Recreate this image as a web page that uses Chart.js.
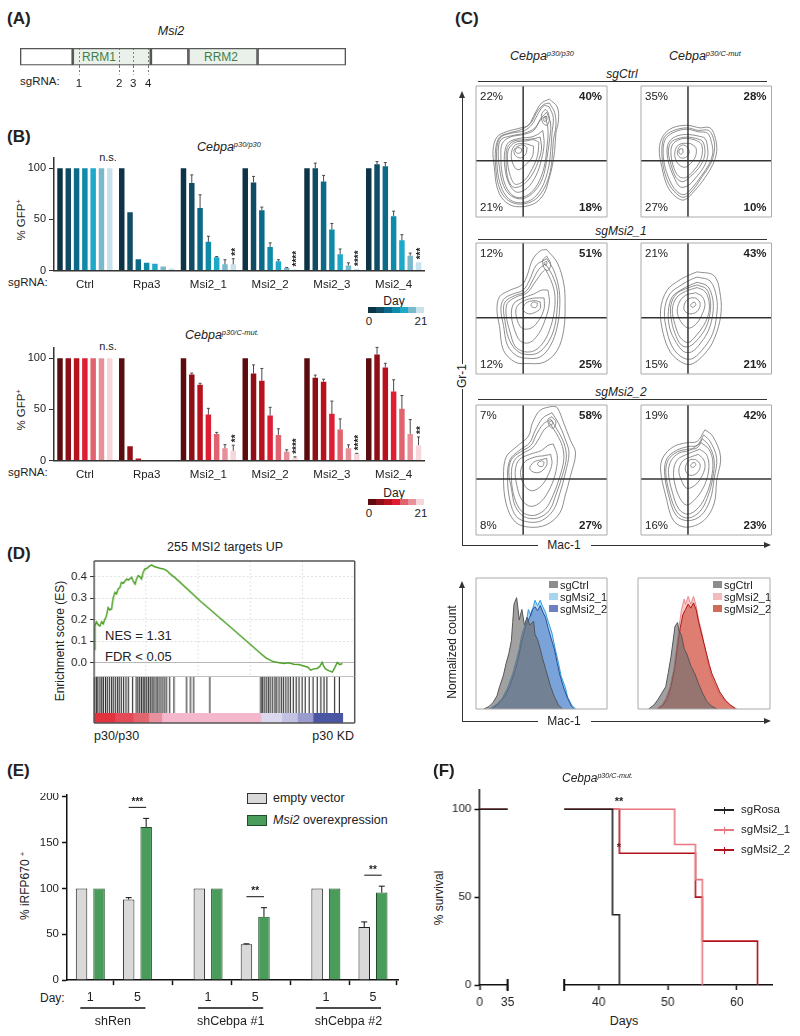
<!DOCTYPE html>
<html>
<head>
<meta charset="utf-8">
<script src="https://cdn.jsdelivr.net/npm/chart.js"></script>
<style>
body { margin: 0; background: #fff; }
#fig { position: relative; width: 800px; height: 1036px; overflow: hidden; font-family: "Liberation Sans", Arial, sans-serif; color: #222; }
.t { position: absolute; white-space: nowrap; line-height: 1; }
sup { font-size: 0.6em; vertical-align: 0; position: relative; top: -0.55em; }
</style>
</head>
<body>
<div id="fig"></div>
<script>
// ---------- data ----------

// (A) Msi2 transcript schematic (arbitrary units along the gene)
const msiSegments = [[0, 52.7], [52.7, 130.7], [130.7, 168.3], [168.3, 237.3], [237.3, 325.7]];
const msiSegFill = ['rgba(255,255,255,0)', 'rgba(150,185,150,0.2)', 'rgba(255,255,255,0)', 'rgba(150,185,150,0.2)', 'rgba(255,255,255,0)'];
const sgRnaPos = [59, 99, 113, 128];
const sgRnaNames = ['1', '2', '3', '4'];

// (B) % GFP+ over time, 7 time points from day 0 to day 21
const sgLabels = ['Ctrl', 'Rpa3', 'Msi2_1', 'Msi2_2', 'Msi2_3', 'Msi2_4'];
const gfpTicks = [0, 50, 100];
const dayTeal = ['#0d3446', '#104c63', '#0c6a88', '#108aa9', '#1fa9c9', '#7ab8cc', '#c7e2eb'];
const dayRed = ['#5c0c0e', '#8e0f17', '#b8121f', '#de1f33', '#e0636f', '#e8909a', '#f6d6da'];

const p30Ctrl = [100, 100, 100, 100, 100, 100, 100];
const p30Rpa3 = [100, 57, 11, 7.5, 6.5, 4, 2];
const p30Msi2_1 = [100, 85.5, 61, 28, 13, 6, 6];
const p30Msi2_2 = [100, 86, 59, 23, 9, 2.5, 1];
const p30Msi2_3 = [100, 100, 87, 40, 16, 5, 1.5];
const p30Msi2_4 = [100, 104, 102, 53, 29.5, 14.5, 8];
const p30Msi2_1Err = [0, 8, 13, 5.5, 0.7, 4.5, 5.5];
const p30Msi2_2Err = [0, 6, 3, 4, 1.5, 0.5, 0];
const p30Msi2_3Err = [0, 5, 6, 6, 5, 2.5, 0];
const p30Msi2_4Err = [0, 2.5, 3.5, 5, 5.5, 2.5, 0];
const noErr = [0, 0, 0, 0, 0, 0, 0];
const p30Stars = ['', '', '**', '****', '****', '***'];

const cmCtrl = [100, 100, 100, 100, 100, 100, 100];
const cmRpa3 = [100, 14, 2, 0, 0, 0, 0];
const cmMsi2_1 = [100, 84, 74, 45, 26, 12, 9.5];
const cmMsi2_2 = [100, 85, 78, 44, 25, 8.5, 2.6];
const cmMsi2_3 = [100, 81, 77, 45.6, 30.3, 12, 6.5];
const cmMsi2_4 = [100, 103.6, 91, 67.4, 50.5, 26, 15];
const cmMsi2_1Err = [0, 1.5, 1.5, 6, 1.5, 3.5, 5.5];
const cmMsi2_2Err = [0, 8.5, 12, 8, 6, 2, 1];
const cmMsi2_3Err = [0, 2.5, 2.5, 12.5, 10.4, 3.3, 0.5];
const cmMsi2_4Err = [0, 7, 4, 11.5, 13, 14, 8];
const cmStars = ['', '', '**', '****', '****', '**'];

// (C) flow contours, Mac-1 (x) vs Gr-1 (y), box units 0-100
const gateX = 36;
const gateY = 43;
const quadP30Ctrl = ['22%', '40%', '21%', '18%'];
const quadCmCtrl = ['35%', '28%', '27%', '10%'];
const quadP30Msi1 = ['12%', '51%', '12%', '25%'];
const quadCmMsi1 = ['21%', '43%', '15%', '21%'];
const quadP30Msi2 = ['7%', '58%', '8%', '27%'];
const quadCmMsi2 = ['19%', '42%', '16%', '23%'];

const contP30Ctrl = [
  [[56,90],[62,84],[63,74],[61,64],[60,50],[58,38],[56,30],[52,18],[44,10],[30,8],[21,13],[16,23],[14,38],[13,51],[16,61],[23,65],[34,68],[40,70],[45,79],[50,87]],
  [[56,87],[60,80],[61,70],[59,58],[58,44],[56,32],[51,20],[43,12],[31,10],[22,15],[17,25],[15,39],[15,52],[18,61],[25,64],[35,67],[42,72],[47,81],[52,86]],
  [[56,84],[59,76],[58,64],[57,50],[55,36],[50,22],[42,13],[31,11],[23,16],[18,27],[16,40],[16,53],[19,61],[27,64],[37,66],[43,71],[48,80],[52,85]],
  [[54,80],[57,71],[56,58],[54,44],[51,30],[45,20],[36,14],[27,16],[21,24],[18,37],[17,50],[19,59],[27,62],[37,64],[45,68],[50,76]],
  [[53,77],[55,66],[54,52],[52,38],[47,25],[40,17],[31,15],[24,21],[20,33],[19,46],[20,56],[26,61],[36,63],[44,66],[49,74]],
  [[51,66],[52,56],[50,44],[46,32],[39,22],[31,19],[25,26],[22,38],[22,50],[25,57],[33,60],[42,61],[47,63]],
  [[49,61],[50,52],[47,41],[42,31],[35,24],[28,23],[24,31],[23,44],[24,53],[29,58],[38,59],[45,60]],
  [[48,57],[47,47],[43,37],[37,28],[30,25],[26,32],[24,43],[25,52],[30,57],[38,58],[44,59]],
  [[44,54],[43,46],[38,40],[32,36],[28,41],[27,49],[30,55],[37,56]],
  [[39,53],[38,48],[34,45],[30,47],[29,51],[32,54],[36,55]],
  [[35,52],[34,49],[31,49],[30,51],[32,53]],
  [[55,80],[56,74],[54,70],[51,72],[50,78],[53,82]],
  [[54,77],[54,74],[52,73],[52,76]]
];
const contCmCtrl = [
  [[45,68],[53,68],[57,60],[58,50],[55,40],[49,30],[41,20],[33,13],[26,16],[20,24],[16,38],[14,52],[17,62],[24,68],[35,70]],
  [[44,66],[52,66],[56,58],[56,49],[53,40],[47,31],[40,21],[33,15],[27,18],[21,26],[17,39],[16,52],[18,61],[25,66],[35,68]],
  [[44,65],[51,64],[54,57],[55,49],[52,40],[46,31],[39,22],[33,17],[27,20],[22,28],[18,40],[17,52],[19,60],[26,65],[35,67]],
  [[43,62],[49,60],[51,53],[51,46],[48,38],[42,30],[36,24],[30,23],[25,31],[21,42],[20,52],[22,58],[28,62],[36,63]],
  [[42,60],[47,58],[49,51],[48,44],[44,37],[38,31],[32,27],[27,30],[23,40],[21,50],[23,57],[29,60],[36,61]],
  [[41,59],[46,56],[47,49],[45,42],[40,35],[34,30],[29,31],[25,38],[23,48],[24,55],[29,59],[35,60]],
  [[38,56],[42,53],[42,47],[39,42],[34,38],[29,40],[26,46],[27,53],[31,56]],
  [[35,54],[37,50],[35,46],[31,45],[28,48],[29,53],[32,55]],
  [[32,52],[32,49],[30,48],[29,50],[30,52]]
];
const contP30Msi1 = [
  [[54,95],[62,85],[67,69],[68,54],[67,34],[62,18],[52,9],[39,8],[30,9],[21,18],[18,36],[16,49],[18,59],[26,64],[35,68],[39,75],[43,87],[49,94]],
  [[54,88],[59,80],[63,67],[64,53],[62,36],[57,22],[49,13],[39,12],[31,14],[24,22],[21,37],[19,49],[21,57],[28,61],[36,64],[41,72],[46,83]],
  [[53,84],[58,76],[62,64],[62,51],[60,36],[55,24],[47,16],[38,15],[31,18],[25,27],[22,41],[21,51],[23,56],[30,60],[38,63],[43,71],[48,80]],
  [[53,80],[57,72],[60,62],[60,50],[57,36],[52,25],[45,18],[37,17],[30,21],[26,32],[23,45],[24,54],[31,59],[39,62],[45,70],[50,77]],
  [[55,64],[56,54],[53,42],[48,31],[41,24],[34,25],[29,35],[27,46],[29,54],[36,58],[44,61],[50,64]],
  [[52,58],[52,50],[48,41],[42,35],[35,35],[31,43],[31,51],[37,56],[45,58]],
  [[49,55],[49,50],[45,47],[40,46],[36,49],[38,54],[44,56]],
  [[47,54],[46,51],[43,51],[42,53],[44,55]],
  [[54,90],[57,84],[55,79],[52,81],[51,87]],
  [[54,86],[54,84],[53,83],[52,85]]
];
const contCmMsi1 = [
  [[43,78],[56,75],[61,59],[61,44],[57,29],[51,18],[40,8],[33,8],[23,16],[17,31],[15,49],[20,64],[30,72],[38,76]],
  [[43,74],[53,71],[58,58],[58,45],[55,31],[49,21],[40,12],[33,12],[25,19],[20,32],[18,48],[22,61],[31,68],[38,72]],
  [[43,70],[51,67],[55,57],[55,46],[52,34],[46,24],[39,17],[33,17],[27,24],[22,35],[21,48],[24,59],[32,65],[38,68]],
  [[43,68],[50,65],[53,57],[53,47],[50,36],[44,27],[37,21],[31,22],[26,31],[23,43],[23,53],[27,61],[34,65]],
  [[43,66],[49,63],[52,56],[52,47],[48,37],[42,29],[36,24],[30,28],[26,38],[24,49],[27,58],[34,63]],
  [[42,62],[47,59],[49,53],[47,46],[43,39],[37,35],[32,38],[28,46],[29,54],[34,60]],
  [[42,58],[45,55],[45,51],[42,47],[37,46],[33,49],[34,55],[38,58]],
  [[41,55],[42,53],[40,51],[38,52],[39,54]]
];
const contP30Msi2 = [
  [[58,99],[62,98],[67,86],[72,73],[76,63],[72,45],[68,30],[64,17],[54,8],[41,6],[30,10],[23,24],[21,45],[23,60],[31,68],[40,76],[43,86],[49,96]],
  [[58,94],[63,86],[68,74],[71,63],[68,47],[64,32],[59,19],[50,11],[40,10],[31,14],[26,26],[24,45],[26,58],[33,65],[41,71],[45,80],[51,90]],
  [[57,89],[62,81],[67,71],[69,60],[66,46],[61,31],[56,19],[47,13],[37,14],[30,22],[27,36],[25,48],[27,58],[34,64],[42,69],[46,77],[51,85]],
  [[57,85],[62,77],[66,68],[67,58],[64,45],[59,31],[53,20],[44,15],[35,18],[29,30],[27,46],[29,57],[36,63],[43,67],[48,74],[52,81]],
  [[59,70],[62,61],[61,49],[57,37],[50,26],[42,22],[35,27],[31,39],[30,50],[33,58],[41,62],[50,65],[55,69]],
  [[57,62],[58,55],[55,46],[50,38],[43,34],[37,38],[34,48],[37,56],[45,60],[52,61]],
  [[54,59],[54,54],[50,49],[45,48],[41,51],[44,56],[50,58]],
  [[52,56],[51,53],[48,53],[47,55],[50,57]],
  [[58,91],[61,87],[59,82],[56,84],[55,89]],
  [[58,88],[59,86],[57,85],[56,87]]
];
const contCmMsi2 = [
  [[49,81],[55,76],[61,60],[58,42],[56,24],[48,11],[35,6],[25,11],[19,30],[15,50],[17,60],[25,68],[35,71],[43,72]],
  [[48,77],[53,72],[58,59],[56,43],[53,27],[46,15],[36,11],[27,15],[21,31],[18,49],[20,59],[27,65],[36,68],[43,69]],
  [[47,74],[52,69],[56,58],[55,44],[51,29],[45,18],[36,13],[28,17],[22,32],[19,48],[21,58],[28,64],[36,66],[43,67]],
  [[46,71],[52,66],[55,57],[54,44],[50,31],[44,21],[36,16],[29,20],[24,33],[21,48],[23,57],[29,63],[37,65]],
  [[45,66],[50,62],[52,55],[51,45],[47,35],[41,27],[35,23],[30,28],[26,39],[25,50],[28,58],[35,62]],
  [[44,62],[48,58],[49,52],[46,44],[41,38],[35,36],[31,42],[29,50],[32,57],[38,60]],
  [[42,58],[45,55],[45,51],[42,47],[37,46],[34,50],[35,55],[38,58]],
  [[41,56],[42,54],[40,52],[38,53],[39,55]]
];

// (C) Mac-1 histograms, box units 0-100
const histLCtrl = [[6,0],[10,2],[13,5],[16,10],[18,17],[21,26],[23,35],[25,42],[27,52],[28,66],[29,80],[31,85],[32,77],[33,68],[35,76],[37,64],[39,70],[41,64],[44,67],[45,57],[47,53],[49,46],[51,38],[53,31],[55,24],[57,17],[60,9],[63,3],[66,0]];
const histLMsi1 = [[10,0],[15,3],[20,8],[24,16],[28,27],[31,38],[33,46],[35,57],[37,63],[39,70],[40,76],[42,71],[44,79],[45,83],[47,79],[49,83],[51,78],[53,74],[55,67],[58,58],[60,48],[63,35],[65,25],[68,17],[70,9],[73,3],[76,0]];
const histLMsi2 = [[12,0],[17,4],[22,10],[26,18],[30,30],[33,42],[35,52],[37,60],[39,66],[41,70],[43,76],[45,78],[47,75],[49,79],[51,74],[53,70],[55,62],[57,55],[60,45],[62,35],[64,26],[67,16],[70,8],[73,2],[75,0]];
const histRCtrl = [[8,0],[12,3],[15,7],[18,12],[21,17],[23,28],[25,40],[27,55],[28,63],[30,66],[31,60],[33,56],[35,46],[37,42],[40,33],[43,27],[46,19],[49,12],[52,6],[56,2],[60,0]];
const histRMsi1 = [[14,0],[18,3],[21,8],[24,16],[27,30],[29,45],[31,62],[33,76],[35,84],[36,80],[38,86],[40,80],[42,86],[44,79],[46,68],[48,60],[50,50],[52,40],[54,31],[56,24],[59,17],[62,11],[66,6],[70,3],[75,0]];
const histRMsi2 = [[15,0],[19,3],[22,8],[25,17],[28,32],[30,48],[32,62],[34,72],[36,76],[38,80],[40,77],[42,81],[44,76],[46,66],[48,58],[50,50],[52,42],[54,34],[56,27],[59,20],[62,13],[66,7],[70,3],[74,0]];

// (D) GSEA running enrichment score, x = % of ranked list
const esX = [0, 0.3, 0.9, 1.6, 2.2, 2.9, 3.5, 4.1, 4.7, 5.4, 6.0, 6.7, 7.3, 8.0, 8.6, 9.2, 9.9, 10.5, 11.2, 12.5, 13.2, 14.4, 15.0, 15.7, 16.3, 16.9, 17.6, 18.2, 18.8, 19.5, 20.3, 21.2, 22.1, 23.0, 24.0, 25.2, 26.6, 28.0, 29.1, 31.0, 33.0, 40.7, 53.5, 63.8, 66.0, 68.9, 70.5, 72.8, 74.5, 76.6, 78.5, 80.5, 82.0, 83.1, 84.3, 85.6, 86.5, 87.5, 88.2, 88.8, 90.0, 91.4, 92.3, 93.3, 94.2, 95.3];
const esY = [0.06, 0.17, 0.19, 0.175, 0.17, 0.19, 0.18, 0.2, 0.216, 0.256, 0.245, 0.25, 0.3, 0.327, 0.32, 0.343, 0.35, 0.374, 0.37, 0.39, 0.385, 0.398, 0.38, 0.366, 0.39, 0.406, 0.4, 0.39, 0.42, 0.437, 0.44, 0.45, 0.456, 0.448, 0.445, 0.44, 0.437, 0.428, 0.414, 0.396, 0.374, 0.287, 0.153, 0.043, 0.02, 0.003, 0.0, -0.005, -0.002, -0.008, -0.01, -0.017, -0.022, -0.036, -0.03, -0.028, -0.02, 0.0, -0.02, -0.03, -0.038, -0.045, -0.025, 0.0, -0.01, -0.005];
const esTicks = [0, 0.1, 0.2, 0.3, 0.4];
const esGridX = [20, 40, 60, 80];
const esHits = [0.3, 0.9, 1.5, 2.3, 3, 3.6, 4.4, 5.1, 5.9, 6.7, 7.4, 8.2, 9, 9.7, 10.5, 11.4, 12.3, 13.2, 14.8, 16.2, 16.9, 17.6, 18.3, 19, 19.6, 20.3, 21, 21.7, 22.4, 23.1, 23.9, 24.6, 25.4, 26.2, 27, 27.8, 29, 30.7, 35.5, 37, 38.2, 44.4, 63.9, 64.5, 65.2, 66, 66.8, 67.5, 68.4, 69.3, 70, 70.9, 71.8, 72.6, 73.5, 74.4, 75.3, 76.4, 77.5, 78.6, 79.8, 81, 82.5, 84, 85.6, 87, 88.2, 89.3, 92.3, 94.1];
const rankEdges = [[0, 8], [8, 15], [15, 21], [21, 26], [26, 64], [64, 72], [72, 78], [78, 84], [84, 95.4]];
const rankColors = ['#e2323d', '#e34a55', '#e2646f', '#e7909e', '#f5b7cc', '#dcd8ee', '#c3c2e3', '#9a9cce', '#4a55a3'];

// (E) % iRFP670+
const eSlots = [0, 2, 5, 7, 10, 12];
const eDays = ['1', '5', '1', '5', '1', '5'];
const eGroups = ['shRen', 'shCebpa #1', 'shCebpa #2'];
const eSig = ['***', '**', '**'];
const eEmpty = [100, 88, 100, 39, 100, 58];
const eEmptyErr = [0, 2, 0, 0.6, 0, 5.5];
const eMsi2 = [100, 167, 100, 69, 100, 95.5];
const eMsi2Err = [0, 9.5, 0, 10, 0, 7];
const eTicks = [0, 50, 100, 150, 200];

// (F) survival, [day, % survival] step points
const kmRosa = [[0, 100], [42, 40], [43, 0]];
const kmMsi2_1 = [[0, 100], [51, 80], [54, 60], [55, 0]];
const kmMsi2_2 = [[0, 100], [43, 75], [54, 50], [55, 25], [63, 0]];
const kmNames = ['sgRosa', 'sgMsi2_1', 'sgMsi2_2'];
const kmColors = ['#222222', '#e8767d', '#b3121c'];
const kmTicks = [0, 50, 100];

// ---------- helpers ----------
Chart.defaults.font.family = '"Liberation Sans", Arial, sans-serif';
Chart.defaults.font.size = 11;
Chart.defaults.color = '#222';
Chart.defaults.animation = false;
Chart.defaults.responsive = true;
Chart.defaults.maintainAspectRatio = false;
Chart.defaults.events = [];
Chart.defaults.plugins.legend.display = false;
Chart.defaults.plugins.tooltip.enabled = false;
Chart.defaults.layout.autoPadding = false;

const fig = document.getElementById('fig');

function canvasAt(l, t, w, h) {
  const d = document.createElement('div');
  d.style.cssText = `position:absolute;left:${l}px;top:${t}px;width:${w}px;height:${h}px`;
  const c = document.createElement('canvas');
  d.appendChild(c);
  fig.appendChild(d);
  return c;
}

function txt(html, x, y, o = {}) {
  const e = document.createElement('div');
  e.className = 't';
  e.innerHTML = html;
  const a = o.align || 'left';
  const tx = a === 'center' ? '-50%' : a === 'right' ? '-100%' : '0';
  e.style.left = x + 'px';
  e.style.top = y + 'px';
  e.style.fontSize = (o.size || 11) + 'px';
  if (o.bold) e.style.fontWeight = 'bold';
  if (o.italic) e.style.fontStyle = 'italic';
  if (o.color) e.style.color = o.color;
  e.style.transform = `translate(${tx},-50%)` + (o.rot ? ' rotate(-90deg)' : '');
  fig.appendChild(e);
}

function rect(l, t, w, h, css) {
  const e = document.createElement('div');
  e.style.cssText = `position:absolute;left:${l}px;top:${t}px;width:${w}px;height:${h}px;${css}`;
  fig.appendChild(e);
}
const hline = (x0, x1, y, c = '#333', w = 1) => rect(x0, y - w / 2, x1 - x0, w, `background:${c}`);
const vline = (x, y0, y1, c = '#333', w = 1) => rect(x - w / 2, y0, w, y1 - y0, `background:${c}`);
const arrowUp = (x, y) => rect(x - 3.5, y, 0, 0, 'border-left:3.5px solid transparent;border-right:3.5px solid transparent;border-bottom:7px solid #333');
const arrowRight = (x, y) => rect(x - 7, y - 3.5, 0, 0, 'border-top:3.5px solid transparent;border-bottom:3.5px solid transparent;border-left:7px solid #333');

// fixed axis sizes, and no extra layout padding for edge tick labels
const fitW = w => s => { s.width = w; s.paddingTop = s.paddingBottom = s.paddingLeft = s.paddingRight = 0; };
const fitH = h => s => { s.height = h; s.paddingTop = s.paddingBottom = s.paddingLeft = s.paddingRight = 0; };

// ---------- plugins ----------
const errorBars = {
  id: 'errorBars',
  afterDatasetsDraw(chart) {
    const { ctx } = chart;
    const ys = chart.scales.y;
    chart.data.datasets.forEach((ds, i) => {
      if (!ds.errors) return;
      const meta = chart.getDatasetMeta(i);
      meta.data.forEach((bar, j) => {
        const e = ds.errors[j];
        if (!e) return;
        const raw = ds.data[j];
        const v = typeof raw === 'object' ? raw.y : raw;
        const top = ys.getPixelForValue(v + e);
        const cap = ds.errCap || 2;
        ctx.save();
        ctx.strokeStyle = ds.errColor || '#333';
        ctx.lineWidth = ds.errWidth || 1;
        ctx.beginPath();
        ctx.moveTo(bar.x, bar.y);
        ctx.lineTo(bar.x, top);
        ctx.moveTo(bar.x - cap, top);
        ctx.lineTo(bar.x + cap, top);
        ctx.stroke();
        ctx.restore();
      });
    });
  }
};

const frame = {
  id: 'frame',
  afterDraw(chart, args, o) {
    if (!o.sides) return;
    const { ctx, chartArea: a } = chart;
    ctx.save();
    ctx.lineWidth = o.width || 1;
    const seg = (s, x0, y0, x1, y1) => {
      if (!o.sides.includes(s)) return;
      ctx.strokeStyle = (s === 'b' && o.bottomColor) || o.color || '#555';
      ctx.beginPath();
      ctx.moveTo(x0, y0);
      ctx.lineTo(x1, y1);
      ctx.stroke();
    };
    seg('l', a.left, a.top, a.left, a.bottom);
    seg('r', a.right, a.top, a.right, a.bottom);
    seg('t', a.left, a.top, a.right, a.top);
    seg('b', a.left, a.bottom, a.right, a.bottom);
    ctx.restore();
  }
};

const quads = {
  id: 'quads',
  afterDraw(chart, args, o) {
    if (!o.labels) return;
    const { ctx, chartArea: a } = chart;
    const f = '11.5px "Liberation Sans", Arial, sans-serif';
    ctx.save();
    ctx.fillStyle = '#222';
    ctx.textBaseline = 'middle';
    ctx.font = f;
    ctx.textAlign = 'left';
    ctx.fillText(o.labels[0], a.left + 4, a.top + 11);
    ctx.fillText(o.labels[2], a.left + 4, a.bottom - 9);
    ctx.font = 'bold ' + f;
    ctx.textAlign = 'right';
    ctx.fillText(o.labels[1], a.right - 5, a.top + 11);
    ctx.fillText(o.labels[3], a.right - 5, a.bottom - 9);
    ctx.restore();
  }
};

const stars = {
  id: 'stars',
  afterDatasetsDraw(chart, args, o) {
    if (!o.labels) return;
    const { ctx } = chart;
    const ds = chart.data.datasets;
    const last = ds.length - 1;
    const meta = chart.getDatasetMeta(last);
    const ys = chart.scales.y;
    o.labels.forEach((lab, j) => {
      if (!lab) return;
      const v = ds[last].data[j] + (ds[last].errors[j] || 0);
      ctx.save();
      ctx.translate(meta.data[j].x + 2.5, ys.getPixelForValue(v) - 3);
      ctx.rotate(-Math.PI / 2);
      ctx.font = 'bold 10px "Liberation Sans", Arial, sans-serif';
      ctx.fillStyle = '#222';
      ctx.textAlign = 'left';
      ctx.textBaseline = 'middle';
      ctx.fillText(lab, 0, 0);
      ctx.restore();
    });
  }
};

const groupMarks = {
  id: 'groupMarks',
  afterDraw(chart, args, o) {
    if (!o.names) return;
    const { ctx, chartArea: a, scales: { x, y } } = chart;
    const m0 = chart.getDatasetMeta(0), m1 = chart.getDatasetMeta(1);
    const d0 = chart.data.datasets[0], d1 = chart.data.datasets[1];
    ctx.save();
    ctx.strokeStyle = '#111';
    ctx.fillStyle = '#222';
    ctx.textAlign = 'center';
    ctx.textBaseline = 'middle';
    o.names.forEach((name, g) => {
      const x0 = x.getPixelForValue(o.slots[2 * g]) - 10;
      const x1 = x.getPixelForValue(o.slots[2 * g + 1]) + 8;
      const yl = a.bottom + 28;
      ctx.lineWidth = 1.5;
      ctx.beginPath();
      ctx.moveTo(x0, yl);
      ctx.lineTo(x1, yl);
      ctx.stroke();
      ctx.font = '12.5px "Liberation Sans", Arial, sans-serif';
      ctx.fillText(name, (x0 + x1) / 2, yl + 13);
      const j = 2 * g + 1;
      const top = Math.max(d0.data[j].y + (d0.errors[j] || 0), d1.data[j].y + (d1.errors[j] || 0));
      const ysig = y.getPixelForValue(top) - 11;
      const bx0 = m0.data[j].x, bx1 = m1.data[j].x;
      ctx.lineWidth = 1;
      ctx.beginPath();
      ctx.moveTo(bx0, ysig);
      ctx.lineTo(bx1, ysig);
      ctx.stroke();
      ctx.font = 'bold 10px "Liberation Sans", Arial, sans-serif';
      ctx.fillText(o.sig[g], (bx0 + bx1) / 2, ysig - 5);
    });
    ctx.restore();
  }
};

const axisBreak = {
  id: 'axisBreak',
  afterDraw(chart, args, o) {
    if (!o.side) return;
    const { ctx, chartArea: a } = chart;
    const bx = o.side === 'left' ? a.left : a.right;
    ctx.save();
    ctx.strokeStyle = '#111';
    ctx.lineWidth = 2;
    ctx.beginPath();
    ctx.moveTo(bx, a.bottom - 6);
    ctx.lineTo(bx, a.bottom + 6);
    ctx.stroke();
    ctx.restore();
  }
};

Chart.register(errorBars, frame, quads, stars, groupMarks, axisBreak);

const fixedTicks = vals => s => { s.ticks = vals.map(v => ({ value: v })); };

// ---------- (A) ----------
txt('(A)', 7, 18, { size: 17, bold: true });
txt('Msi2', 171, 31, { align: 'center', italic: true, size: 12.5 });
txt('sgRNA:', 20, 82, { size: 11.5 });
txt('RRM1', 99, 57, { align: 'center', size: 12, color: '#2b7035' });
txt('RRM2', 221, 57, { align: 'center', size: 12, color: '#2b7035' });

new Chart(canvasAt(15, 45.5, 336, 48), {
  type: 'bar',
  data: {
    labels: ['Msi2'],
    datasets: msiSegments.map((s, i) => ({
      data: [s],
      backgroundColor: msiSegFill[i],
      borderColor: '#555',
      borderWidth: 1,
      borderSkipped: false,
      grouped: false,
      barPercentage: 1,
      categoryPercentage: 1
    }))
  },
  options: {
    indexAxis: 'y',
    layout: { padding: { left: 5, right: 5, top: 2, bottom: 0 } },
    scales: {
      y: { display: false },
      x: {
        type: 'linear', min: 0, max: 325.7, z: 1,
        afterBuildTicks: fixedTicks(sgRnaPos),
        afterFit: fitH(28.5),
        ticks: { callback: (v, i) => sgRnaNames[i], font: { size: 11.5 }, padding: 2, maxRotation: 0, autoSkip: false },
        grid: { color: '#777', tickColor: '#777', tickLength: 9, tickBorderDash: [2, 2], lineWidth: 1 },
        border: { display: false, dash: [2, 2] }
      }
    }
  }
});

// ---------- (B) ----------
txt('(B)', 7, 136, { size: 17, bold: true });

function gfpChart(bottom, means, errs, palette, starLabels) {
  const l = 53.5, r = 424, h = 112.5, yw = 42, xh = 24;
  new Chart(canvasAt(l - yw, bottom - h - 2, r - l + yw + 2, h + 2 + xh), {
    type: 'bar',
    data: {
      labels: sgLabels,
      datasets: palette.map((c, d) => ({
        data: means.map(g => g[d]),
        errors: errs.map(g => g[d]),
        backgroundColor: c,
        errColor: '#4a4a4a',
        errCap: 1.5,
        categoryPercentage: 0.94,
        barPercentage: 0.66
      }))
    },
    options: {
      layout: { padding: { top: 2, right: 2 } },
      scales: {
        x: {
          grid: { display: false, drawTicks: false },
          border: { color: '#333', width: 1.5 },
          ticks: { padding: 7, font: { size: 11.5 } },
          afterFit: fitH(xh)
        },
        y: {
          min: 0, max: 110,
          afterBuildTicks: fixedTicks(gfpTicks),
          afterFit: fitW(yw),
          grid: { drawOnChartArea: false, tickLength: 5, tickColor: '#333' },
          border: { color: '#333', width: 1.5 },
          ticks: { padding: 3, font: { size: 11 } }
        }
      },
      plugins: { stars: { labels: starLabels } }
    }
  });
}

function dayLegend(palette, y) {
  txt('Day', 394, y - 9, { align: 'center', size: 12 });
  palette.forEach((c, i) => rect(368 + i * 8, y - 3, 8, 6, `background:${c}`));
  txt('0', 369, y + 12, { align: 'center', size: 11.5 });
  txt('21', 421, y + 12, { align: 'center', size: 11.5 });
}

txt('<i>Cebpa<sup>p30/p30</sup></i>', 197, 147, { size: 12.5 });
txt('n.s.', 108, 157, { align: 'center', size: 11 });
txt('% GFP<sup>+</sup>', 22, 220, { align: 'center', rot: true, size: 11.5 });
txt('sgRNA:', 8, 283, { size: 11.5 });
gfpChart(270, [p30Ctrl, p30Rpa3, p30Msi2_1, p30Msi2_2, p30Msi2_3, p30Msi2_4],
  [noErr, noErr, p30Msi2_1Err, p30Msi2_2Err, p30Msi2_3Err, p30Msi2_4Err], dayTeal, p30Stars);
dayLegend(dayTeal, 310);

txt('<i>Cebpa<sup>p30/C-mut.</sup></i>', 185, 335, { size: 12.5 });
txt('n.s.', 108, 346, { align: 'center', size: 11 });
txt('% GFP<sup>+</sup>', 22, 410, { align: 'center', rot: true, size: 11.5 });
txt('sgRNA:', 8, 473, { size: 11.5 });
gfpChart(460, [cmCtrl, cmRpa3, cmMsi2_1, cmMsi2_2, cmMsi2_3, cmMsi2_4],
  [noErr, noErr, cmMsi2_1Err, cmMsi2_2Err, cmMsi2_3Err, cmMsi2_4Err], dayRed, cmStars);
dayLegend(dayRed, 502);

// ---------- (C) ----------
txt('(C)', 455, 18, { size: 17, bold: true });
txt('<i>Cebpa<sup>p30/p30</sup></i>', 510, 56, { size: 12.5 });
txt('<i>Cebpa<sup>p30/C-mut</sup></i>', 669, 56, { size: 12.5 });
txt('sgCtrl', 622, 74, { align: 'center', italic: true, size: 12 });
hline(478, 767, 81);
txt('sgMsi2_1', 621, 231, { align: 'center', italic: true, size: 12 });
hline(478, 767, 239);
txt('sgMsi2_2', 621, 392, { align: 'center', italic: true, size: 12 });
hline(478, 767, 399);

function flowPlot(l, t, r, b, rings, labels) {
  const datasets = [
    { data: [{ x: gateX, y: 0 }, { x: gateX, y: 100 }], borderColor: '#333', borderWidth: 1.5 },
    { data: [{ x: 0, y: gateY }, { x: 100, y: gateY }], borderColor: '#333', borderWidth: 1.5 }
  ].concat(rings.map(ring => ({
    data: ring.concat([ring[0]]).map(p => ({ x: p[0], y: p[1] })),
    borderColor: '#727272', borderWidth: 0.8, tension: 0.35
  })));
  datasets.forEach(d => { d.showLine = true; d.pointRadius = 0; });
  new Chart(canvasAt(l - 2, t - 2, r - l + 4, b - t + 4), {
    type: 'scatter',
    data: { datasets },
    options: {
      layout: { padding: 2 },
      scales: { x: { display: false, min: 0, max: 100 }, y: { display: false, min: 0, max: 100 } },
      plugins: { frame: { sides: 'ltrb', color: '#aaaaaa', width: 1 }, quads: { labels } }
    }
  });
}

flowPlot(476, 86, 607, 217, contP30Ctrl, quadP30Ctrl);
flowPlot(640.5, 86, 771, 217, contCmCtrl, quadCmCtrl);
flowPlot(476, 243, 607, 374, contP30Msi1, quadP30Msi1);
flowPlot(640.5, 243, 771, 374, contCmMsi1, quadCmMsi1);
flowPlot(476, 405, 607, 535, contP30Msi2, quadP30Msi2);
flowPlot(640.5, 405, 771, 535, contCmMsi2, quadCmMsi2);

// Gr-1 / Mac-1 axes
vline(462, 97, 364);
vline(462, 389, 545);
arrowUp(462, 91);
txt('Gr-1', 462, 376, { align: 'center', rot: true, size: 12 });
hline(462, 538, 545);
hline(591, 765, 545);
arrowRight(771, 545);
txt('Mac-1', 564, 545, { align: 'center', size: 12 });

// histograms
function histPlot(l, t, r, b, sets) {
  new Chart(canvasAt(l - 2, t - 2, r - l + 4, b - t + 4), {
    type: 'line',
    data: {
      datasets: sets.map(s => ({
        data: s.pts.map(p => ({ x: p[0], y: p[1] })),
        backgroundColor: s.fill, borderColor: s.line, borderWidth: 1,
        fill: 'origin', pointRadius: 0, tension: 0
      }))
    },
    options: {
      layout: { padding: 2 },
      scales: { x: { type: 'linear', display: false, min: 0, max: 100 }, y: { display: false, min: 0, max: 100 } },
      plugins: { frame: { sides: 'ltrb', color: '#aaaaaa', width: 1 } }
    }
  });
}

histPlot(476, 578, 607, 709, [
  { pts: histLCtrl, fill: 'rgba(110,110,110,0.65)', line: '#555' },
  { pts: histLMsi2, fill: 'rgba(60,100,185,0.45)', line: '#2a4f95' },
  { pts: histLMsi1, fill: 'rgba(120,190,240,0.6)', line: '#2f9be0' }
]);
histPlot(638, 578, 770, 709, [
  { pts: histRCtrl, fill: 'rgba(110,110,110,0.65)', line: '#555' },
  { pts: histRMsi2, fill: 'rgba(205,75,55,0.6)', line: '#b01515' },
  { pts: histRMsi1, fill: 'rgba(242,170,170,0.65)', line: '#e88a8a' }
]);

function histLegend(x, names, colors) {
  names.forEach((n, i) => {
    rect(x, 581 + i * 12, 9, 7, `background:${colors[i]}`);
    txt(n, x + 11, 585 + i * 12, { size: 11 });
  });
}
histLegend(549, ['sgCtrl', 'sgMsi2_1', 'sgMsi2_2'], ['#8c8c8c', '#a8d4f0', '#6d80c0']);
histLegend(713, ['sgCtrl', 'sgMsi2_1', 'sgMsi2_2'], ['#8c8c8c', '#f2bcbc', '#d26a58']);

vline(462, 587, 721);
arrowUp(462, 581);
txt('Normalized count', 452, 652, { align: 'center', rot: true, size: 12 });
hline(462, 538, 721);
hline(591, 765, 721);
arrowRight(771, 721);
txt('Mac-1', 564, 721, { align: 'center', size: 12 });

// ---------- (D) ----------
txt('(D)', 7, 553, { size: 17, bold: true });
txt('255 MSI2 targets UP', 225, 547, { align: 'center', size: 12.5 });
txt('Enrichment score (ES)', 60, 641, { align: 'center', rot: true, size: 12 });
txt('NES = 1.31', 105, 635, { size: 13 });
txt('FDR &lt; 0.05', 105, 656, { size: 13 });
txt('p30/p30', 94, 736, { size: 12.5 });
txt('p30 KD', 354, 736, { align: 'right', size: 12.5 });

new Chart(canvasAt(94.3 - 40, 559, 259.7 + 40 + 2, 118), {
  type: 'line',
  data: {
    datasets: [{
      data: esX.map((x, i) => ({ x, y: esY[i] })),
      borderColor: '#4fa12a', borderWidth: 1.5, pointRadius: 0, tension: 0
    }]
  },
  options: {
    layout: { padding: { top: 2, right: 2 } },
    scales: {
      x: {
        type: 'linear', min: 0, max: 100,
        afterBuildTicks: fixedTicks(esGridX),
        afterFit: fitH(0),
        ticks: { display: false },
        grid: { color: '#e2e2e2', drawTicks: false },
        border: { display: false, dash: [2, 2] }
      },
      y: {
        min: -0.068, max: 0.474,
        afterBuildTicks: fixedTicks(esTicks),
        afterFit: fitW(40),
        ticks: { callback: v => v.toFixed(1), padding: 3, font: { size: 11.5 } },
        grid: { color: c => (c.tick && c.tick.value === 0 ? '#b8b8b8' : '#e2e2e2'), tickColor: '#333', tickLength: 4 },
        border: { display: false, dash: c => (c.tick && c.tick.value === 0 ? [] : [2, 2]) }
      }
    },
    plugins: { frame: { sides: 'ltrb', color: '#555', bottomColor: '#aaa', width: 1.5 } }
  }
});

new Chart(canvasAt(92.3, 677, 263.7, 36), {
  type: 'scatter',
  data: {
    datasets: [{
      data: esHits.map(x => ({ x, y: 0.5 })),
      pointStyle: 'line', rotation: 90, pointRadius: 18, borderColor: '#111', borderWidth: 1
    }]
  },
  options: {
    layout: { padding: { left: 2, right: 2 } },
    scales: { x: { display: false, min: 0, max: 100 }, y: { display: false, min: 0, max: 1 } },
    plugins: { frame: { sides: 'lr', color: '#555', width: 1.5 } }
  }
});

new Chart(canvasAt(92.3, 713, 263.7, 12), {
  type: 'bar',
  data: {
    labels: ['rank'],
    datasets: rankEdges.map((e, i) => ({
      data: [e], backgroundColor: rankColors[i], borderWidth: 0,
      grouped: false, barPercentage: 1, categoryPercentage: 1
    }))
  },
  options: {
    indexAxis: 'y',
    layout: { padding: { left: 2, right: 2, bottom: 2 } },
    scales: { x: { type: 'linear', display: false, min: 0, max: 100 }, y: { display: false } },
    plugins: { frame: { sides: 'lrb', color: '#555', width: 1.5 } }
  }
});

// ---------- (E) ----------
txt('(E)', 7, 770, { size: 17, bold: true });
txt('% iRFP670 <sup>+</sup>', 25, 886, { align: 'center', rot: true, size: 12 });
txt('Day:', 40, 998, { size: 12 });
rect(247, 793, 18, 9, 'background:#d9d9d9;border:1px solid #333');
txt('empty vector', 273, 798, { size: 12.5 });
rect(247, 815, 18, 9, 'background:#4a9c5a;border:1px solid #1f4f2a');
txt('<i>Msi2</i> overexpression', 273, 820, { size: 12.5 });

new Chart(canvasAt(21.7, 792.9, 378.6, 237.1), {
  type: 'bar',
  data: {
    datasets: [
      {
        data: eSlots.map((s, i) => ({ x: s, y: eEmpty[i] })), errors: eEmptyErr,
        backgroundColor: '#d9d9d9', borderColor: '#222', borderWidth: 1, errColor: '#111', errCap: 3
      },
      {
        data: eSlots.map((s, i) => ({ x: s, y: eMsi2[i] })), errors: eMsi2Err,
        backgroundColor: '#4a9c5a', borderColor: '#1f4f2a', borderWidth: 1, errColor: '#111', errCap: 3
      }
    ]
  },
  options: {
    datasets: { bar: { categoryPercentage: 0.743, barPercentage: 0.657 } },
    layout: { padding: { top: 2, right: 2 } },
    scales: {
      x: {
        type: 'linear', min: -0.989, max: 13.087, offset: false,
        afterBuildTicks: fixedTicks(eSlots),
        afterFit: fitH(50),
        ticks: { callback: (v, i) => eDays[i], font: { size: 12.5 }, padding: 5, autoSkip: false, maxRotation: 0 },
        grid: { drawOnChartArea: false, tickLength: 5, tickColor: '#111', tickWidth: 1.5 },
        border: { color: '#111', width: 1.5 }
      },
      y: {
        min: 0, max: 202,
        afterBuildTicks: fixedTicks(eTicks),
        afterFit: fitW(45),
        ticks: { padding: 3, font: { size: 11.5 } },
        grid: { drawOnChartArea: false, tickLength: 5, tickColor: '#111', tickWidth: 1.5 },
        border: { color: '#111', width: 1.5 }
      }
    },
    plugins: { groupMarks: { names: eGroups, slots: eSlots, sig: eSig } }
  }
});

// ---------- (F) ----------
txt('(F)', 433, 770, { size: 17, bold: true });
txt('<i>Cebpa<sup>p30/C-mut.</sup></i>', 562, 778, { size: 12 });
txt('% survival', 439, 898, { align: 'center', rot: true, size: 12 });
txt('Days', 624, 1021, { align: 'center', size: 12.5 });
txt('**', 619, 801, { align: 'center', size: 11, bold: true });
txt('*', 619, 847, { align: 'center', size: 11, bold: true });

const kmData = [kmRosa, kmMsi2_1, kmMsi2_2];
function kmChart(l, w, pad, xmin, xmax, xticks, showY, side) {
  new Chart(canvasAt(l, 788, w, 237), {
    type: 'line',
    data: {
      datasets: kmData.map((pts, i) => ({
        data: pts.map(p => ({ x: p[0], y: p[1] })),
        borderColor: kmColors[i], borderWidth: 1.6, stepped: 'before', pointRadius: 0
      }))
    },
    options: {
      layout: { padding: pad },
      scales: {
        x: {
          type: 'linear', min: xmin, max: xmax,
          afterBuildTicks: fixedTicks(xticks),
          afterFit: fitH(40),
          ticks: { padding: 5, font: { size: 12 }, autoSkip: false, maxRotation: 0 },
          grid: { drawOnChartArea: false, tickLength: 5, tickColor: '#111', tickWidth: 1.5 },
          border: { color: '#111', width: 1.5 }
        },
        y: {
          display: showY, min: 0, max: 111,
          afterBuildTicks: fixedTicks(kmTicks),
          afterFit: fitW(45),
          ticks: { padding: 3, font: { size: 11.5 } },
          grid: { drawOnChartArea: false, tickLength: 5, tickColor: '#111', tickWidth: 1.5 },
          border: { color: '#111', width: 1.5 }
        }
      },
      plugins: { axisBreak: { side } }
    }
  });
}
kmChart(434, 82.7, { top: 2, right: 10 }, 0, 35, [0, 35], true, 'right');
kmChart(517.3, 256.4, { top: 2, left: 2, right: 2 }, 35, 65.16, [40, 50, 60], false, 'left');

kmNames.forEach((n, i) => {
  const y = 810 + i * 20;
  rect(714, y - 1, 20, 2, `background:${kmColors[i]}`);
  rect(723.5, y - 3.5, 1, 7, `background:${kmColors[i]}`);
  txt(n, 741, y, { size: 11.5 });
});
</script>
</body>
</html>
